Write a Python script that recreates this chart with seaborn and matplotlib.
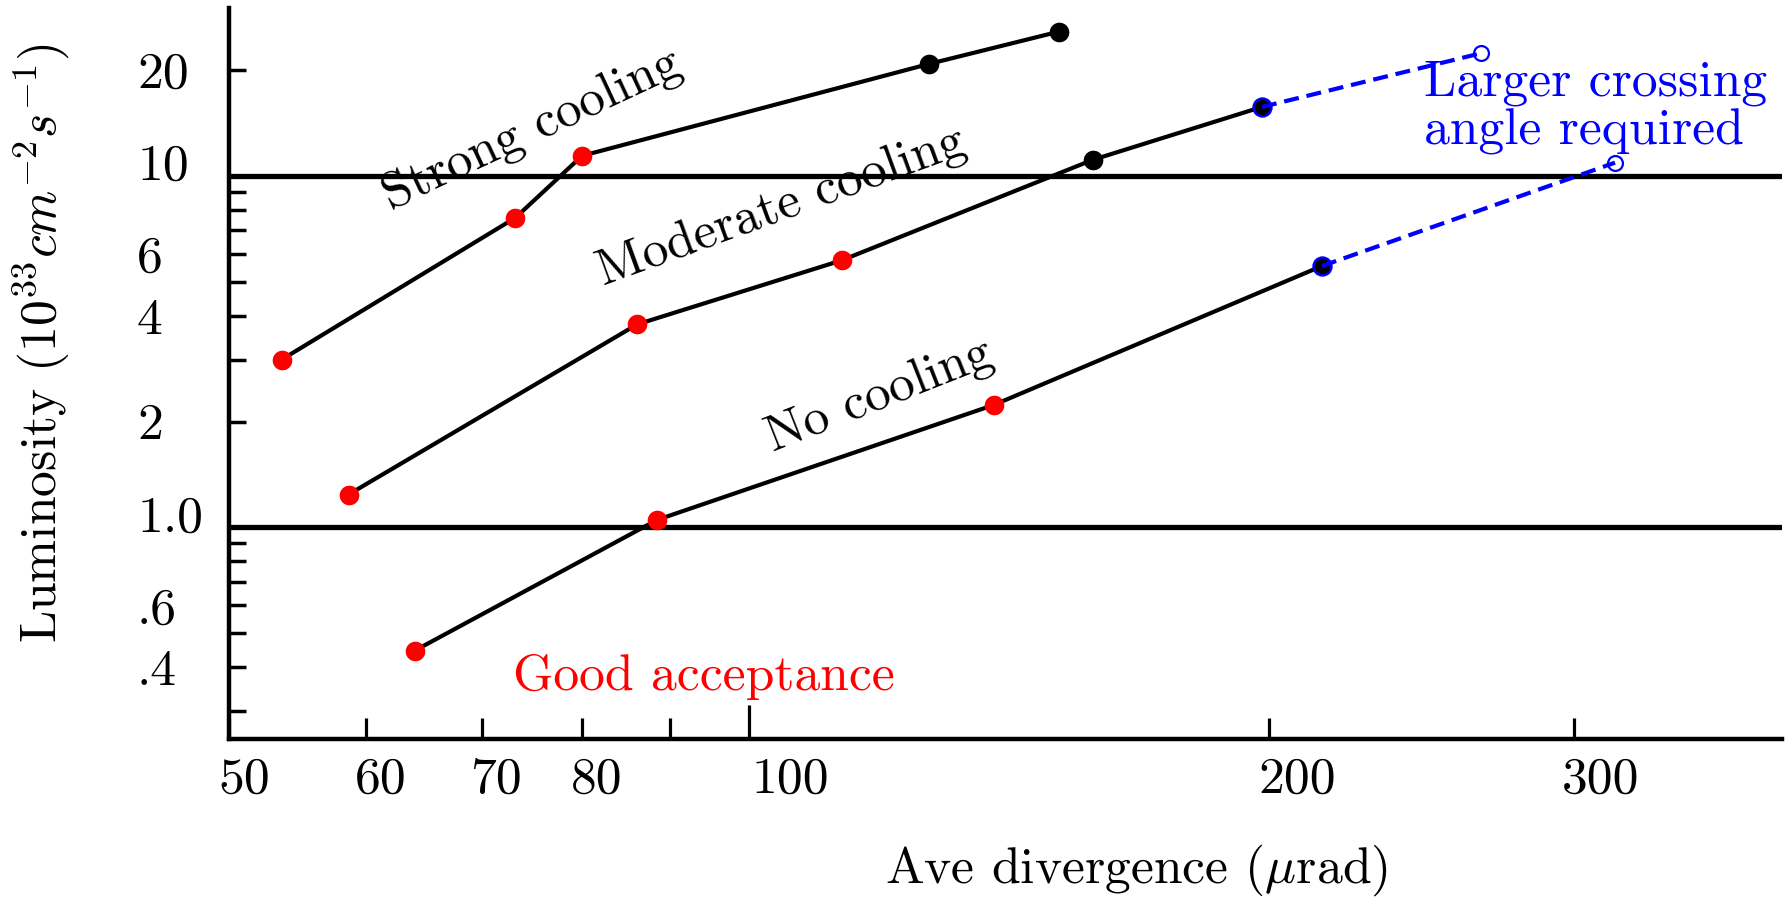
import numpy as np
import pandas as pd
import matplotlib
matplotlib.use("Agg")
import matplotlib.pyplot as plt
import matplotlib.transforms as mtransforms
from matplotlib.ticker import FixedLocator, FixedFormatter, NullLocator
import seaborn as sns

# ---------------- data ----------------
strong_x = [53.6, 73.2, 80.0, 127.0, 151.0]
strong_y = [3.0, 7.6, 11.4, 20.8, 25.7]
strong_kind = ["good", "good", "good", "poor", "poor"]

moderate_x = [58.6, 86.1, 113.1, 158.0, 198.0]
moderate_y = [1.24, 3.78, 5.75, 11.1, 15.7]
moderate_kind = ["good", "good", "good", "poor", "crossing"]

none_x = [64.0, 88.4, 138.5, 214.5]
none_y = [0.446, 1.05, 2.23, 5.54]
none_kind = ["good", "good", "good", "crossing"]

# extensions needing a larger crossing angle
ext_moderate_x = [198.0, 265.0]
ext_moderate_y = [15.7, 22.3]
ext_none_x = [214.5, 317.0]
ext_none_y = [5.54, 10.9]

x_major_ticks = [100]
x_major_labels = ["100"]
x_minor_ticks = [50, 60, 70, 80, 90, 200, 300]
x_minor_labels = ["50", "60", "70", "80", "", "200", "300"]
y_ticks = [0.3, 0.4, 0.5, 0.6, 0.7, 0.8, 0.9, 1, 2, 3, 4, 5, 6, 7, 8, 9, 10, 20]
y_labels = ["", ".4", "", ".6", "", "", "", "1.0", "2", "", "4", "", "6", "", "", "", "10", "20"]
ref_levels = [1.0, 10.0]

# ---------------- style ----------------
sns.set_theme(style="ticks")
plt.rcParams["font.family"] = ["cmr10", "DejaVu Serif"]
plt.rcParams["mathtext.fontset"] = "cm"
plt.rcParams["axes.formatter.use_mathtext"] = True
plt.rcParams["axes.unicode_minus"] = False
FS = 37.2

def frame(name, xs, ys, kinds):
    return pd.DataFrame({"series": name, "x": xs, "y": ys, "kind": kinds})

curves = pd.concat([
    frame("Strong cooling", strong_x, strong_y, strong_kind),
    frame("Moderate cooling", moderate_x, moderate_y, moderate_kind),
    frame("No cooling", none_x, none_y, none_kind),
], ignore_index=True)

ext = pd.concat([
    pd.DataFrame({"series": "Moderate", "x": ext_moderate_x, "y": ext_moderate_y}),
    pd.DataFrame({"series": "None", "x": ext_none_x, "y": ext_none_y}),
], ignore_index=True)
ext_ends = ext.groupby("series").tail(1)

fig = plt.figure(figsize=(17.9, 8.97), dpi=100, facecolor="white")
ax = fig.add_axes([0.1282, 0.1761, 0.8673, 0.8149])
ax.set_facecolor("white")
ax.set_xscale("log")
ax.set_yscale("log")

for lv in ref_levels:
    ax.axhline(lv, color="black", lw=3.8, zorder=1.5)

sns.lineplot(data=curves, x="x", y="y", units="series", estimator=None, sort=False,
             color="black", linewidth=3.0, ax=ax, legend=False, zorder=2)

sns.scatterplot(data=curves[curves["kind"] == "good"], x="x", y="y", color="red",
                s=200, linewidth=0, ax=ax, legend=False, zorder=3)
sns.scatterplot(data=curves[curves["kind"] == "poor"], x="x", y="y", color="black",
                s=200, linewidth=0, ax=ax, legend=False, zorder=3)
sns.scatterplot(data=curves[curves["kind"] == "crossing"], x="x", y="y", color="black",
                edgecolor="blue", s=165, linewidth=1.8, ax=ax, legend=False, zorder=3)
sns.scatterplot(data=ext_ends, x="x", y="y", color="white",
                edgecolor="blue", s=115, linewidth=1.6, ax=ax, legend=False, zorder=3)

sns.lineplot(data=ext, x="x", y="y", units="series", estimator=None, sort=False,
             color="blue", linewidth=3.0, linestyle=(0, (3.6, 1.9)),
             ax=ax, legend=False, zorder=4)

ax.set_xlim(50, 396)
ax.set_ylim(0.25, 30)

# spines
for s in ["top", "right"]:
    ax.spines[s].set_visible(False)
for s in ["left", "bottom"]:
    ax.spines[s].set_linewidth(3.2)
    ax.spines[s].set_color("black")

# ticks
ax.xaxis.set_major_locator(FixedLocator(x_major_ticks))
ax.xaxis.set_major_formatter(FixedFormatter(x_major_labels))
ax.xaxis.set_minor_locator(FixedLocator(x_minor_ticks))
ax.xaxis.set_minor_formatter(FixedFormatter(x_minor_labels))
ax.yaxis.set_major_locator(FixedLocator(y_ticks))
ax.yaxis.set_major_formatter(FixedFormatter(y_labels))
ax.yaxis.set_minor_locator(NullLocator())

ax.tick_params(axis="x", which="major", direction="in", length=24.5, width=2.3,
               pad=13.0, labelsize=FS, colors="black", top=False)
ax.tick_params(axis="x", which="minor", direction="in", length=15, width=2.3,
               pad=13.0, labelsize=FS, colors="black", top=False)
ax.tick_params(axis="y", which="major", direction="in", length=12, width=2.5,
               pad=66.5, labelsize=FS, colors="black", right=False)

ax.set_xlabel("")
ax.set_ylabel("")

def shift(label, dx_pt, dy_pt):
    label.set_transform(label.get_transform() +
                        mtransforms.ScaledTranslation(dx_pt / 72, dy_pt / 72, fig.dpi_scale_trans))

for t in ax.xaxis.get_minor_ticks():
    t.label1.set_horizontalalignment("left")
    shift(t.label1, -8.2, 0)
for t in ax.xaxis.get_major_ticks():
    t.label1.set_horizontalalignment("left")
    shift(t.label1, 1.6, 0)
for t, lab in zip(ax.yaxis.get_major_ticks(), y_labels):
    t.label1.set_horizontalalignment("left")
    if lab in ("10", "1.0"):
        shift(t.label1, 0, 10)

# axis labels
ax.set_xlabel(r"Ave divergence ($\mu$rad)", fontsize=FS, color="black")
ax.xaxis.set_label_coords(0.5845, -0.197)
ax.xaxis.label.set_verticalalignment("baseline")
ax.set_ylabel(r"Luminosity $(10^{33}cm^{-2}s^{-1})$", fontsize=FS, color="black")
ax.yaxis.set_label_coords(-0.1214, 0.5417)
ax.yaxis.label.set_verticalalignment("center")

# annotations
ax.text(74.8, 13.5, "Strong cooling", rotation=25, ha="center", va="center",
        rotation_mode="anchor", fontsize=FS, color="black", zorder=5)
ax.text(104.4, 8.12, "Moderate cooling", rotation=20, ha="center", va="center",
        rotation_mode="anchor", fontsize=FS, color="black", zorder=5)
ax.text(118.9, 2.357, "No cooling", rotation=21.5, ha="center", va="center",
        rotation_mode="anchor", fontsize=FS, color="black", zorder=5)
ax.text(73.0, 0.345, "Good acceptance", ha="left", va="baseline",
        fontsize=FS, color="red", zorder=5)
ax.text(245.7, 16.87, "Larger crossing", ha="left", va="baseline",
        fontsize=FS, color="blue", zorder=5)
ax.text(245.7, 12.24, "angle required", ha="left", va="baseline",
        fontsize=FS, color="blue", zorder=5)

fig.savefig("out.png", dpi=100, facecolor="white")
